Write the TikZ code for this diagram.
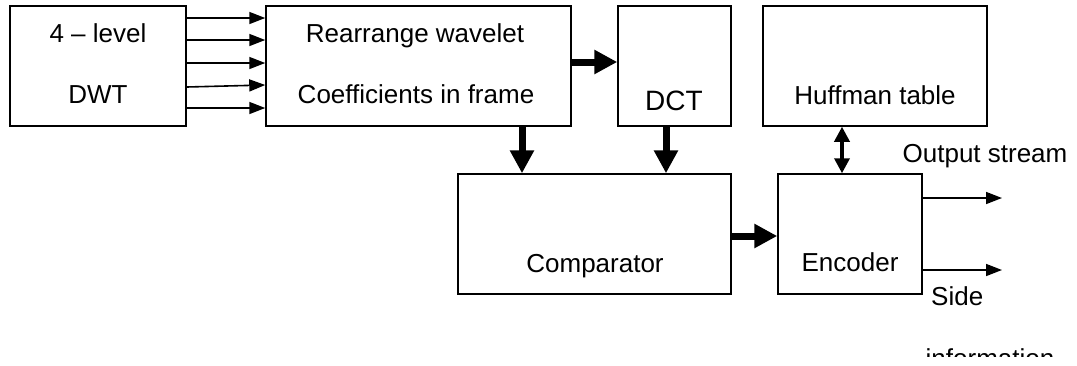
\documentclass[tikz,border=0pt]{standalone}
\usepackage{fontspec}
\setmainfont{Liberation Sans}
\usetikzlibrary{arrows.meta}
\begin{document}
\begin{tikzpicture}[x=1pt,y=-1pt,
  blockbox/.style={draw=black,line width=1.5pt,rectangle,inner sep=0pt,minimum height=120pt},
  lbl/.style={inner sep=0pt,anchor=base,font=\fontsize{26}{31}\selectfont},
  thinarrow/.style={line width=1.6pt,-{Triangle[length=16pt,width=12pt]}},
  thickarrow/.style={line width=7pt,-{Triangle[length=23pt,width=23pt]}},
  dblarrow/.style={line width=3.5pt,{Triangle[length=15pt,width=15pt]}-{Triangle[length=15pt,width=15pt]}}]
\useasboundingbox (0,0) rectangle (1077,365);
% boxes
\node[blockbox,minimum width=176pt] (dwt) at (98,66) {};
\node[blockbox,minimum width=305pt] (rearr) at (418.5,66) {};
\node[blockbox,minimum width=113pt] (dct) at (674.5,66) {};
\node[blockbox,minimum width=224pt] (huff) at (875,66) {};
\node[blockbox,minimum width=273pt] (comp) at (594.5,234) {};
\node[blockbox,minimum width=144pt] (enc) at (850,234) {};
% texts
\node[lbl] (t1) at (98,42) {4 – level};
\node[lbl] (t2) at (98,103) {DWT};
\node[lbl] (t3) at (415,42) {Rearrange wavelet};
\node[lbl] (t4) at (416,103) {Coefficients in frame};
\node[lbl,font=\fontsize{28}{33}\selectfont] (t5) at (674,110) {DCT};
\node[lbl] (t6) at (875,104) {Huffman table};
\node[lbl] (t7) at (595,272) {Comparator};
\node[lbl] (t8) at (850,271) {Encoder};
\node[lbl] (t9) at (985,162) {Output stream};
\node[lbl,anchor=base west] (t10) at (931,305) {Side};
\begin{scope}
  \clip (0,0) rectangle (1077,356);
  \node[lbl] (t11) at (990,367) {information};
\end{scope}
% arrows DWT -> Rearrange
\draw[thinarrow] (dwt.east |- 0,18) -- (rearr.west |- 0,18);
\draw[thinarrow] (dwt.east |- 0,40) -- (rearr.west |- 0,40);
\draw[thinarrow] (dwt.east |- 0,63) -- (rearr.west |- 0,63);
\draw[thinarrow] (dwt.east |- 0,87) -- (rearr.west |- 0,85);
\draw[thinarrow] (dwt.east |- 0,108) -- (rearr.west |- 0,108);
% thick arrows
\draw[thickarrow] (rearr.east |- 0,62) -- (dct.west |- 0,62);
\draw[thickarrow] (rearr.south -| 522,0) -- (comp.north -| 522,0);
\draw[thickarrow] (dct.south -| 666,0) -- (comp.north -| 666,0);
\draw[thickarrow] (comp.east |- 0,236) -- (enc.west |- 0,236);
% double arrow
\draw[dblarrow] (huff.south -| 842,0) -- (enc.north -| 842,0);
% outputs
\coordinate (o1) at (1002,198);
\coordinate (o2) at (1002,270);
\draw[thinarrow] (enc.east |- o1) -- (o1);
\draw[thinarrow] (enc.east |- o2) -- (o2);
\end{tikzpicture}
\end{document}
